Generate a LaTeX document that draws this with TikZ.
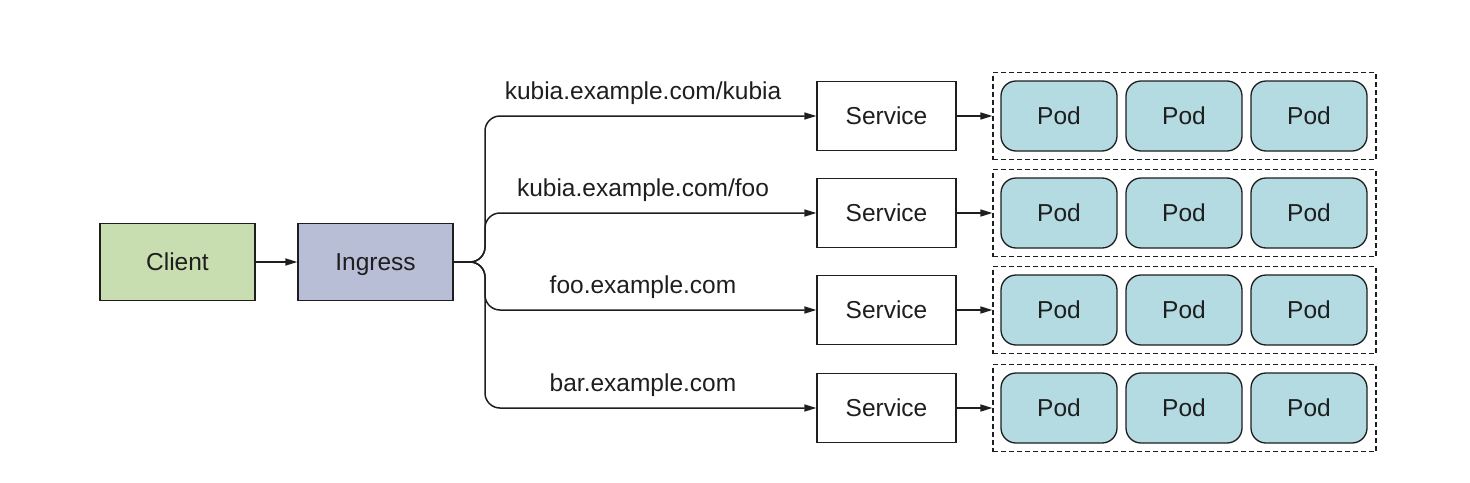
\documentclass[tikz,border=0pt]{standalone}
\usepackage{fontspec}
\setmainfont{Liberation Sans}
\usetikzlibrary{arrows.meta}
\definecolor{clientfill}{RGB}{201,222,176}
\definecolor{ingressfill}{RGB}{184,190,214}
\definecolor{podfill}{RGB}{180,218,226}
\definecolor{ink}{RGB}{30,30,30}
\begin{document}
\begin{tikzpicture}[x=1pt,y=-1pt,
  every node/.style={font=\fontsize{24.5}{28}\selectfont, text=ink},
  fixtext/.style={text height=17.5pt, text depth=0pt},
  box/.style={draw=ink, line width=1.3pt, minimum width=155pt, minimum height=77pt, inner sep=0pt, fixtext},
  svcbox/.style={draw=ink, line width=1.3pt, fill=white, minimum width=139pt, minimum height=69pt, inner sep=0pt, fixtext},
  podbox/.style={draw=ink, line width=1.3pt, fill=podfill, rounded corners=15pt, minimum width=116pt, minimum height=70pt, inner sep=0pt, fixtext},
  grpbox/.style={draw=ink, line width=1.2pt, dash pattern=on 5pt off 3pt, minimum width=383pt, minimum height=87pt, inner sep=0pt},
  lbl/.style={inner sep=0pt, fixtext},
  conn/.style={draw=ink, line width=1.5pt, -{Triangle[length=12pt,width=7pt]}},
  branch/.style={conn, rounded corners=15pt}
]
\useasboundingbox (0,0) rectangle (1470,482);

\node[box, fill=clientfill] (client) at (177.5,262) {Client};
\node[box, fill=ingressfill] (ingress) at (375.5,262) {Ingress};
\draw[conn] (client) -- (ingress);

\coordinate (trunk) at (485,262);

\foreach \i/\y/\t in {1/116/kubia.example.com\slash kubia, 2/213/kubia.example.com\slash foo, 3/310/foo.example.com, 4/408/bar.example.com} {
  \node[svcbox] (svc\i) at (886.5,\y) {Service};
  \node[grpbox] (grp\i) at (1184.5,\y) {};
  \node[podbox] (pod\i a) at (1059,\y) {Pod};
  \node[podbox] (pod\i b) at (1184,\y) {Pod};
  \node[podbox] (pod\i c) at (1309,\y) {Pod};
  \node[lbl] (lbl\i) at (643,\y-25) {\t};
  \draw[branch] (ingress.east) -- (trunk) |- (svc\i.west);
  \draw[conn] (svc\i.east) -- (grp\i.west);
}
\end{tikzpicture}
\end{document}
